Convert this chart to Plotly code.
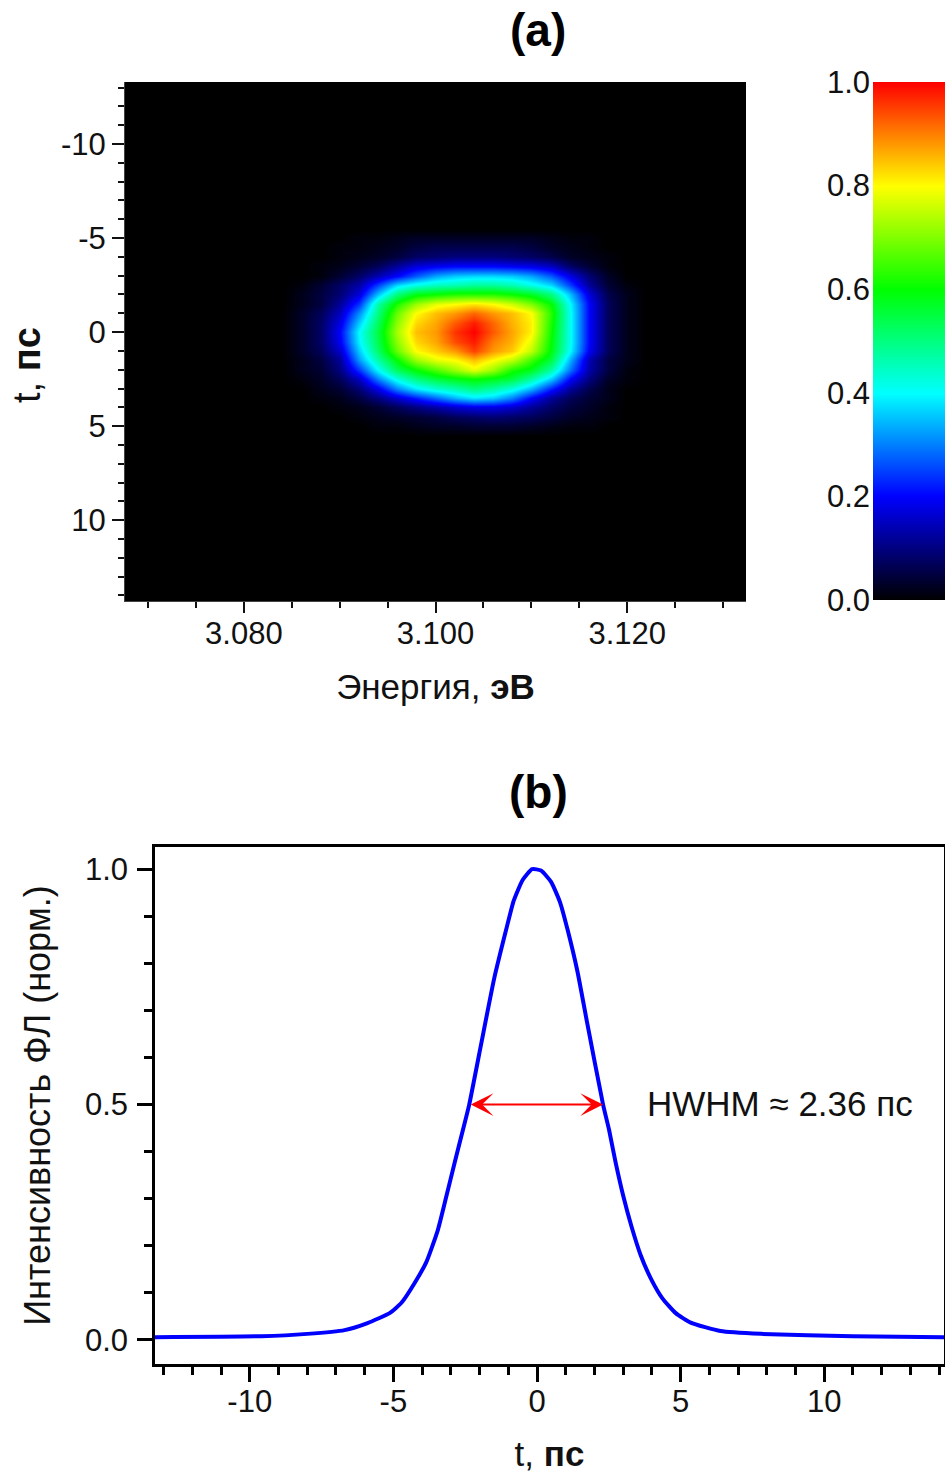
import plotly.graph_objects as go

W, H = 945, 1474

# (a) map: photon energy (eV), delay (ps), normalised intensity
energy_ev = [3.068 + 0.002 * i for i in range(33)]
delay_ps = [-13.5 + 0.5 * i for i in range(57)]
core_energy_start = 9  # index of 3.086 eV in energy_ev
core_delay_start = 17  # index of -5 ps in delay_ps
core_rows = [
 [.00,.00,.00,.01,.01,.02,.03,.03,.03,.03,.03,.03,.03,.02,.01,.01,.00,.00],
 [.00,.00,.01,.01,.02,.03,.05,.06,.06,.06,.06,.06,.05,.03,.02,.01,.00,.00],
 [.00,.00,.01,.02,.03,.05,.08,.09,.10,.10,.10,.09,.08,.06,.03,.02,.01,.00],
 [.00,.01,.02,.04,.07,.12,.17,.19,.20,.20,.20,.19,.18,.15,.08,.04,.01,.00],
 [.00,.01,.04,.08,.14,.20,.27,.33,.36,.37,.37,.36,.33,.27,.18,.09,.03,.00],
 [.01,.04,.08,.13,.25,.37,.42,.45,.46,.48,.48,.46,.42,.37,.25,.12,.04,.01],
 [.02,.05,.09,.17,.35,.50,.58,.60,.62,.62,.62,.60,.57,.50,.35,.17,.06,.02],
 [.02,.05,.12,.24,.47,.62,.72,.78,.80,.82,.80,.76,.70,.60,.40,.20,.07,.02],
 [.03,.07,.15,.31,.50,.68,.80,.85,.88,.92,.88,.85,.80,.63,.41,.20,.07,.02],
 [.03,.08,.18,.36,.53,.71,.83,.87,.93,.98,.92,.86,.81,.62,.41,.20,.07,.02],
 [.03,.08,.20,.40,.55,.73,.85,.88,.96,1.0,.93,.87,.81,.61,.41,.20,.07,.02],
 [.03,.08,.19,.39,.54,.71,.83,.87,.94,.98,.90,.86,.78,.60,.41,.20,.07,.02],
 [.03,.07,.16,.36,.52,.68,.80,.84,.88,.95,.88,.84,.75,.59,.40,.19,.07,.02],
 [.02,.05,.12,.32,.47,.60,.72,.78,.80,.85,.80,.75,.65,.55,.34,.14,.05,.02],
 [.02,.04,.10,.24,.40,.53,.60,.66,.72,.78,.72,.62,.58,.47,.29,.13,.05,.01],
 [.01,.03,.07,.15,.30,.42,.50,.55,.58,.60,.58,.55,.47,.36,.20,.10,.03,.01],
 [.00,.02,.04,.09,.18,.30,.38,.43,.46,.50,.47,.42,.34,.22,.12,.06,.02,.00],
 [.00,.01,.02,.05,.10,.16,.22,.28,.34,.38,.36,.30,.20,.12,.07,.04,.02,.00],
 [.00,.00,.01,.02,.04,.07,.10,.13,.16,.18,.18,.16,.12,.08,.05,.03,.01,.00],
 [.00,.00,.00,.01,.02,.03,.04,.05,.07,.08,.09,.08,.07,.05,.03,.02,.01,.00],
 [.00,.00,.00,.00,.01,.01,.02,.03,.03,.04,.04,.04,.03,.02,.01,.01,.00,.00],
]

# colour scale strip
scale_levels = [0, .2, .4, .6, .8, 1]
scale_labels = ["0.0", "0.2", "0.4", "0.6", "0.8", "1.0"]

# (b) delay profile
profile_t = [-13.3,-9.6,-8.0,-6.7,-5.9,-5.13,-4.72,-4.26,-3.85,-3.45,-3.16,-2.87,-2.58,-2.36,-1.94,-1.49,-1.08,-0.81,-0.5,-0.17,0.14,0.49,0.8,1.07,1.41,1.76,2.3,2.51,2.74,3.01,3.29,3.61,3.96,4.36,4.83,5.35,6.39,7.8,11.0,14.2]
profile_v = [.006,.008,.013,.021,.036,.057,.079,.121,.166,.234,.304,.376,.446,.50,.63,.768,.87,.933,.977,1.0,.997,.973,.93,.87,.782,.669,.50,.446,.376,.304,.241,.18,.131,.089,.057,.037,.019,.013,.008,.006]
half_level = 0.5
arrow_left, arrow_right = -2.36, 2.3
t_ticks = [-10, -5, 0, 5, 10]
t_labels = ["-10", "-5", "0", "5", "10"]

colors = [[0,"#000000"],[.2,"#0000ff"],[.4,"#00ffff"],[.6,"#00ff00"],[.8,"#ffff00"],[1,"#ff0000"]]

z = [[0.0] * len(energy_ev) for _ in delay_ps]
for r, row in enumerate(core_rows):
    for c, v in enumerate(row):
        z[core_delay_start + r][core_energy_start + c] = v

FONT = "Liberation Sans, Arial, sans-serif"
TICK = 31
LAB = 35

def dom_x(a, b): return [a / W, b / W]
def dom_y(top, bot): return [1 - bot / H, 1 - top / H]

def note(text, px, py, size, color="#111", angle=0):
    return dict(text=text, xref="paper", yref="paper", x=px / W, y=1 - py / H, xanchor="center", yanchor="middle",
                showarrow=False, textangle=angle, font=dict(size=size, color=color))

fig = go.Figure()
fig.add_trace(go.Heatmap(x=energy_ev, y=delay_ps, z=z, zmin=0, zmax=1, colorscale=colors, zsmooth="best",
                         showscale=False, xaxis="x", yaxis="y"))
fig.add_trace(go.Heatmap(x=[0, 1], y=scale_levels, z=[[v, v] for v in scale_levels], zmin=0, zmax=1, colorscale=colors,
                         zsmooth="best", showscale=False, xaxis="x3", yaxis="y3"))
fig.add_trace(go.Scatter(x=profile_t, y=profile_v, mode="lines", line=dict(color="#0000ff", width=4, shape="spline", smoothing=0.5),
                         xaxis="x2", yaxis="y2", showlegend=False))

fig.update_layout(
    width=W, height=H, autosize=False, margin=dict(l=0, r=0, t=0, b=0, pad=0, autoexpand=False),
    paper_bgcolor="white", plot_bgcolor="white", font=dict(family=FONT, size=TICK, color="#111"),
    showlegend=False,
    xaxis=dict(domain=dom_x(125, 746), range=[3.0676, 3.1324], anchor="y", tickvals=[3.08, 3.10, 3.12],
               tickformat=".3f", ticks="outside", ticklen=11, tickwidth=2, tickcolor="#111", showgrid=False, zeroline=False,
               showline=True, linecolor="#444", linewidth=1, tickfont=dict(size=TICK), ticklabelstandoff=-6,
               minor=dict(tick0=3.08, dtick=0.005, ticks="outside", ticklen=6, tickwidth=2, tickcolor="#111", showgrid=False),
               title=dict(text="Энергия, <b>эВ</b>", font=dict(size=LAB), standoff=24)),
    yaxis=dict(domain=dom_y(82, 601), range=[14.3, -13.3], anchor="x", tickvals=t_ticks, ticktext=t_labels,
               ticks="outside", ticklen=12, tickwidth=2, tickcolor="#111", showgrid=False, zeroline=False,
               showline=True, linecolor="#444", linewidth=1, tickfont=dict(size=TICK),
               minor=dict(tick0=0, dtick=1, ticks="outside", ticklen=6, tickwidth=2, tickcolor="#111", showgrid=False)),
    xaxis3=dict(domain=dom_x(873, 945), range=[0, 1], anchor="y3", visible=False),
    yaxis3=dict(domain=dom_y(82, 600), range=[0, 1], anchor="x3", tickvals=scale_levels, ticktext=scale_labels,
                ticks="", showgrid=False, zeroline=False, showline=False, tickfont=dict(size=TICK), ticklabelstandoff=2),
    xaxis2=dict(domain=dom_x(155, 944), range=[-13.3, 14.17], anchor="y2", tickvals=t_ticks, ticktext=t_labels,
                ticks="outside", ticklen=15, tickwidth=3, tickcolor="black", showgrid=False, zeroline=False,
                showline=True, mirror=True, linecolor="black", linewidth=2.5, tickfont=dict(size=TICK), ticklabelstandoff=-7,
                minor=dict(tick0=0, dtick=1, ticks="outside", ticklen=8, tickwidth=2.5, tickcolor="black", showgrid=False),
                title=dict(text="t, <b>пс</b>", font=dict(size=LAB), standoff=24)),
    yaxis2=dict(domain=dom_y(847, 1364), range=[-0.051, 1.047], anchor="x2", tickvals=[0, .5, 1], tickformat=".1f",
                ticks="outside", ticklen=15, tickwidth=3, tickcolor="black", showgrid=False, zeroline=False,
                showline=True, mirror=True, linecolor="black", linewidth=2.5, tickfont=dict(size=TICK), ticklabelstandoff=3,
                minor=dict(tick0=0, dtick=0.1, ticks="outside", ticklen=8, tickwidth=2.5, tickcolor="black", showgrid=False),
                title=dict(text="Интенсивность ФЛ (норм.)", font=dict(size=36), standoff=24)),
    annotations=[
        note("<b>(a)</b>", 538, 30, 46, "black"),
        note("<b>(b)</b>", 538, 792, 46, "black"),
        note("t, <b>пс</b>", 27, 365, 38, angle=-90),
        note("HWHM ≈ 2.36 пс", 780, 1103, 35),
        dict(x=arrow_right, y=half_level, ax=arrow_left, ay=half_level, xref="x2", yref="y2", axref="x2", ayref="y2",
             text="", showarrow=True, arrowside="end+start", arrowhead=3, arrowsize=1.9, arrowwidth=2, arrowcolor="#ff0000"),
    ],
)

fig.write_html("out.html", config=dict(displayModeBar=False),
               post_script="document.body.style.margin='0';")
